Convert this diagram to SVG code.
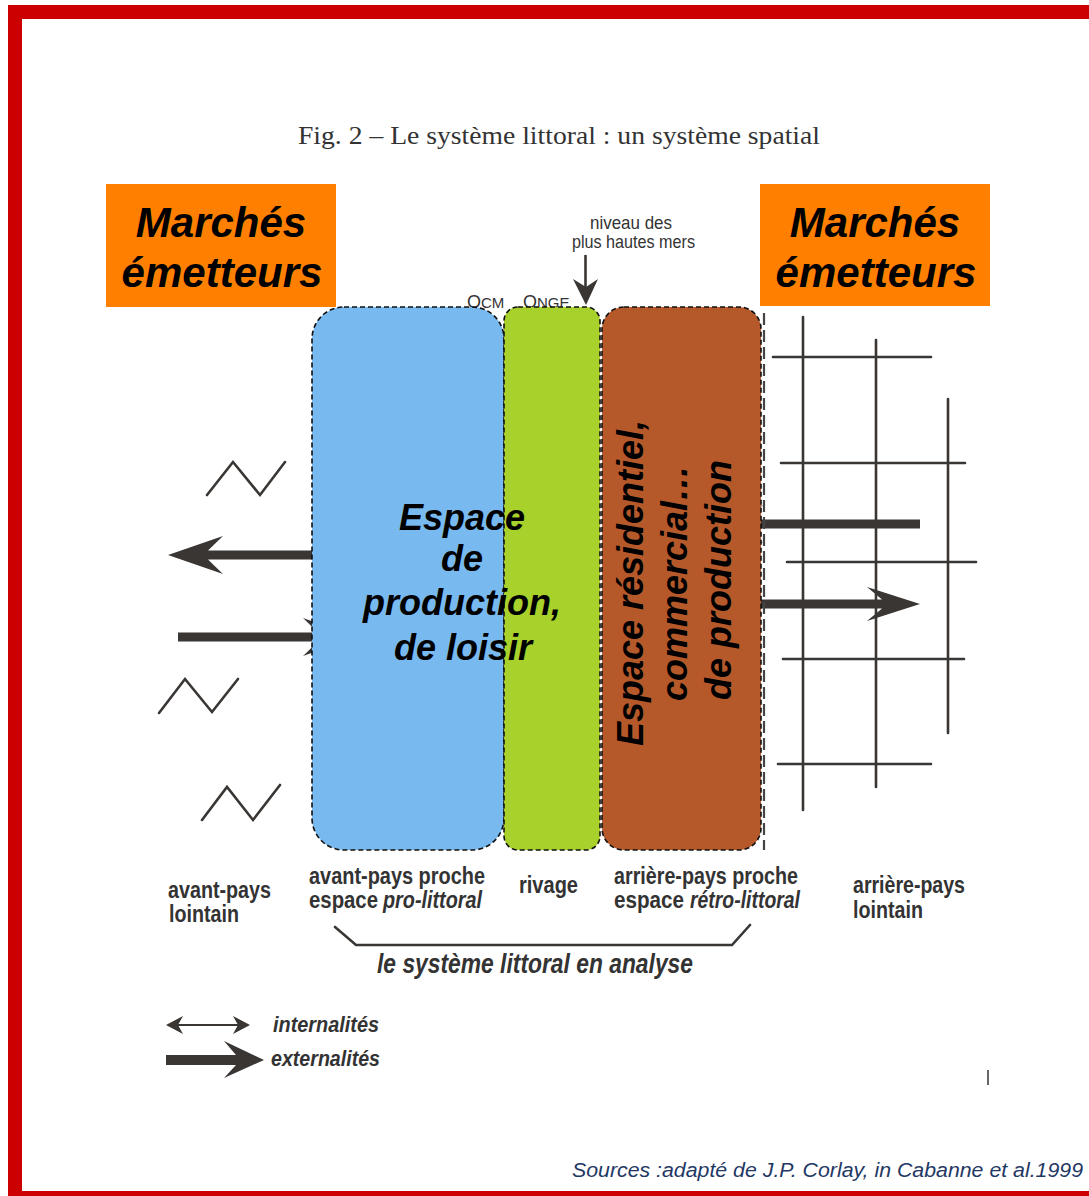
<svg xmlns="http://www.w3.org/2000/svg" width="1089" height="1196" viewBox="0 0 1089 1196">
<defs>
<style>
.frame{fill:#CC0000}
.orange{fill:#FF8000}
.big{font-family:"Liberation Sans",Arial,sans-serif;font-weight:bold;font-style:italic;fill:#000}
.zone{stroke:#111;stroke-width:1.6;stroke-dasharray:5 3}
.ink{fill:none;stroke:#3a3634;stroke-width:2.6;stroke-linecap:round;stroke-linejoin:miter}
.arrow{fill:#3a3634}
.lbl{font-family:"Liberation Sans",Arial,sans-serif;font-weight:bold;font-size:23px;fill:#333}
.lbli{font-family:"Liberation Sans",Arial,sans-serif;font-weight:bold;font-style:italic;fill:#333}
.small{font-family:"Liberation Sans",Arial,sans-serif;font-size:19px;fill:#333}
.lvl{font-family:"Liberation Sans",Arial,sans-serif;font-size:15px;fill:#333}
</style>
</defs>
<rect width="1089" height="1196" fill="#fff"/>
<g id="frame">
<rect class="frame" x="8" y="5" width="1081" height="14"/>
<rect class="frame" x="8" y="5" width="14" height="1191"/>
<rect class="frame" x="8" y="1191" width="1081" height="5"/>
</g>
<g id="title">
<text x="298" y="144" font-family="'Liberation Serif','Times New Roman',serif" font-size="25" fill="#333" textLength="522" lengthAdjust="spacingAndGlyphs">Fig. 2 – Le système littoral : un système spatial</text>
</g>
<g id="marches-left">
<rect class="orange" x="106" y="184" width="230" height="123"/>
<text class="big" font-size="42" x="221" y="237" text-anchor="middle">Marchés</text>
<text class="big" font-size="42" x="222" y="287" text-anchor="middle">émetteurs</text>
</g>
<g id="marches-right">
<rect class="orange" x="760" y="184" width="230" height="122"/>
<text class="big" font-size="42" x="875" y="237" text-anchor="middle">Marchés</text>
<text class="big" font-size="42" x="876" y="287" text-anchor="middle">émetteurs</text>
</g>
<g id="niveau">
<text class="small" x="590" y="229" textLength="82" lengthAdjust="spacingAndGlyphs">niveau  des</text>
<text class="small" x="572" y="248" textLength="123" lengthAdjust="spacingAndGlyphs">plus hautes mers</text>
<line x1="585.5" y1="255" x2="585.5" y2="290" stroke="#3a3634" stroke-width="2.6"/>
<path class="arrow" d="M586,305 L573,279 L586,287 L598,279 Z"/>
</g>
<g id="levels">
<text class="lvl" x="467" y="308"><tspan font-size="18">O</tspan>CM</text>
<text class="lvl" x="523" y="308"><tspan font-size="18">O</tspan>NGE</text>
</g>
<g id="connectors">
<polyline class="ink" points="207,495 233,462 260,495 285,462"/>
<polyline class="ink" points="159,713 185,679 212,712 238,679"/>
<polyline class="ink" points="202,820 227,787 253,820 280,785"/>
<path class="arrow" d="M168,555 L223,536 L208,550.5 L312,550.5 L312,559.5 L208,559.5 L223,574 Z"/>
<path class="arrow" d="M178,632.5 L318,632.5 L303,618 L356,637 L303,656 L318,641.5 L178,641.5 Z"/>
<line x1="803" y1="317" x2="803" y2="810" class="ink"/>
<line x1="876" y1="340" x2="876" y2="787" class="ink"/>
<line x1="948" y1="399" x2="948" y2="733" class="ink"/>
<line x1="773" y1="357" x2="931" y2="357" class="ink"/>
<line x1="781" y1="463" x2="965" y2="463" class="ink"/>
<line x1="787" y1="562" x2="976" y2="562" class="ink"/>
<line x1="783" y1="659" x2="964" y2="659" class="ink"/>
<line x1="778" y1="764" x2="931" y2="764" class="ink"/>
<path class="arrow" d="M920,519.5 L748,519.5 L763,505 L710,524 L763,543 L748,528.5 L920,528.5 Z"/>
<path class="arrow" d="M740,599.5 L882,599.5 L867,587 L920,604 L867,621 L882,608.5 L740,608.5 Z"/>
<line x1="764" y1="313" x2="764" y2="850" stroke="#444" stroke-width="2.2" stroke-dasharray="12 5"/>
<polyline class="ink" points="335,927 356,945 732,945 750,925"/>
<line x1="988" y1="1070" x2="988" y2="1085" stroke="#666" stroke-width="2"/>
</g>
<g id="zone-pro">
<rect class="zone" x="312" y="307" width="192" height="543" rx="32" ry="32" fill="#78B9EF"/>
</g>
<g id="zone-rivage">
<rect class="zone" x="504" y="307" width="96" height="543" rx="14" ry="14" fill="#A8D12B"/>
</g>
<g id="zone-retro">
<rect class="zone" x="602" y="307" width="159" height="543" rx="22" ry="22" fill="#B5592A"/>
</g>
<g id="label-pro">
<text class="big" font-size="36" x="462" y="530" text-anchor="middle">Espace</text>
<text class="big" font-size="36" x="462" y="571" text-anchor="middle">de</text>
<text class="big" font-size="36" x="462" y="615" text-anchor="middle">production,</text>
<text class="big" font-size="36" x="463" y="660" text-anchor="middle">de loisir</text>
</g>
<g id="label-retro">
<text class="big" font-size="36" transform="translate(643,583) rotate(-90)" text-anchor="middle">Espace résidentiel,</text>
<text class="big" font-size="36" transform="translate(687,583) rotate(-90)" text-anchor="middle">commercial…</text>
<text class="big" font-size="36" transform="translate(731,580) rotate(-90)" text-anchor="middle">de production</text>
</g>
<g id="bottom-labels">
<text class="lbl" x="168" y="898" textLength="103" lengthAdjust="spacingAndGlyphs">avant-pays</text>
<text class="lbl" x="169" y="922" textLength="70" lengthAdjust="spacingAndGlyphs">lointain</text>
<text class="lbl" x="309" y="884" textLength="176" lengthAdjust="spacingAndGlyphs">avant-pays proche</text>
<text class="lbl" x="309" y="908" textLength="69" lengthAdjust="spacingAndGlyphs">espace</text>
<text class="lbl" x="383" y="908" font-style="italic" textLength="99" lengthAdjust="spacingAndGlyphs">pro-littoral</text>
<text class="lbl" x="519" y="893" textLength="59" lengthAdjust="spacingAndGlyphs">rivage</text>
<text class="lbl" x="614" y="884" textLength="184" lengthAdjust="spacingAndGlyphs">arrière-pays proche</text>
<text class="lbl" x="614" y="908" textLength="70" lengthAdjust="spacingAndGlyphs">espace</text>
<text class="lbl" x="690" y="908" font-style="italic" textLength="110" lengthAdjust="spacingAndGlyphs">rétro-littoral</text>
<text class="lbl" x="853" y="893" textLength="112" lengthAdjust="spacingAndGlyphs">arrière-pays</text>
<text class="lbl" x="853" y="918" textLength="70" lengthAdjust="spacingAndGlyphs">lointain</text>
<text class="lbli" font-size="27" x="377" y="973" textLength="316" lengthAdjust="spacingAndGlyphs">le système littoral en analyse</text>
</g>
<g id="legend">
<line x1="176" y1="1025" x2="240" y2="1025" stroke="#3a3634" stroke-width="2"/>
<path class="arrow" d="M166,1025 L183,1016 L178,1025 L183,1034 Z"/>
<path class="arrow" d="M250,1025 L233,1016 L238,1025 L233,1034 Z"/>
<text class="lbli" font-size="22" x="273" y="1032" textLength="106" lengthAdjust="spacingAndGlyphs">internalités</text>
<path class="arrow" d="M166,1055 L236,1055 L224,1041 L264,1060 L224,1078 L236,1065 L166,1065 Z"/>
<text class="lbli" font-size="22" x="271" y="1066" textLength="109" lengthAdjust="spacingAndGlyphs">externalités</text>
</g>
<g id="source">
<text x="572" y="1177" font-family="'Liberation Sans',Arial,sans-serif" font-style="italic" font-size="20" fill="#1F3864" textLength="511" lengthAdjust="spacingAndGlyphs">Sources :adapté de J.P. Corlay, in Cabanne et al.1999</text>
</g>
</svg>
